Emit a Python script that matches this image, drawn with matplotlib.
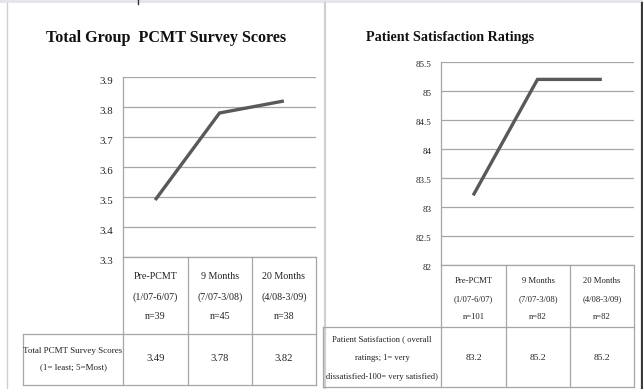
import matplotlib
matplotlib.use("Agg")
import matplotlib.pyplot as plt
from matplotlib.lines import Line2D
from matplotlib.patches import Rectangle
import matplotlib.transforms as mtransforms

# ---- data ----
left_title = "Total Group  PCMT Survey Scores"
left_categories = [["Pre-PCMT", "(1/07-6/07)", "n=39"],
                   ["9 Months", "(7/07-3/08)", "n=45"],
                   ["20 Months", "(4/08-3/09)", "n=38"]]
left_values = [3.49, 3.78, 3.82]
left_value_labels = ["3.49", "3.78", "3.82"]
left_row_label = ["Total PCMT Survey Scores", "(1= least; 5=Most)"]
left_yticks = [3.3, 3.4, 3.5, 3.6, 3.7, 3.8, 3.9]
left_yticklabels = ["3.3", "3.4", "3.5", "3.6", "3.7", "3.8", "3.9"]

right_title = "Patient Satisfaction Ratings"
right_categories = [["Pre-PCMT", "(1/07-6/07)", "n=101"],
                    ["9 Months", "(7/07-3/08)", "n=82"],
                    ["20 Months", "(4/08-3/09)", "n=82"]]
right_values = [83.2, 85.2, 85.2]
right_value_labels = ["83.2", "85.2", "85.2"]
right_row_label = ["Patient Satisfaction ( overall", "ratings; 1= very",
                   "dissatisfied-100= very satisfied)"]
right_yticks = [82, 82.5, 83, 83.5, 84, 84.5, 85, 85.5]
right_yticklabels = ["82", "82.5", "83", "83.5", "84", "84.5", "85", "85.5"]

# ---- figure ----
W, H = 643, 389
DPI = 100
fig = plt.figure(figsize=(W / DPI, H / DPI), dpi=DPI)
fig.patch.set_facecolor("white")
SERIF = "Liberation Serif"
TEXT_C = "#222222"
GRID_C = "#a6a6a6"
LINE_C = "#595959"

# pixel -> figure-fraction transform (y measured from top)
px = mtransforms.Affine2D().scale(1 / W, -1 / H).translate(0, 1) + fig.transFigure


def hline(x0, x1, y, color=GRID_C, lw=0.9):
    fig.add_artist(Line2D([x0, x1], [y, y], transform=px, color=color, lw=lw))


def vline(x, y0, y1, color=GRID_C, lw=0.9):
    fig.add_artist(Line2D([x, x], [y0, y1], transform=px, color=color, lw=lw))


def text(x, y, s, size=8, ha="center", **kw):
    fig.text(x, y, s, transform=px, ha=ha, va="center", fontsize=size,
             family=SERIF, color=TEXT_C, **kw)


# panel frame
fig.add_artist(Rectangle((0, 0), W, 3, transform=px, color="#e4e6ea", lw=0))
vline(137.5, 0, 4, color="#333333", lw=1)
vline(7, 3, H, color="#cfcfcf", lw=1)
vline(324.5, 3, H, color="#d0d0d0", lw=1.6)
vline(641.5, 3, H, color="#3a3a3a", lw=1.6)


def make_panel(ax_box, ylim, yticks, yticklabels, values, title, title_xy,
               title_size, categories, cat_cols, cat_y, cat_size, row_box,
               row_label, row_label_y, row_label_size, value_labels, value_y,
               value_size, label_dy, tick_size):
    x0, y0, x1, y1 = ax_box
    ax = fig.add_axes([x0 / W, 1 - y1 / H, (x1 - x0) / W, (y1 - y0) / H])
    ax.set_xlim(-0.5, 2.5)
    ax.set_ylim(*ylim)
    ax.set_yticks(yticks)
    ax.set_yticklabels(yticklabels)
    ax.set_xticks([])
    ax.tick_params(axis="y", length=0, pad=7, labelsize=tick_size,
                   labelcolor=TEXT_C)
    for lab in ax.get_yticklabels():
        lab.set_family(SERIF)
        lab.set_transform(lab.get_transform() +
                          mtransforms.ScaledTranslation(0, -label_dy / DPI,
                                                        fig.dpi_scale_trans))
    ax.grid(axis="y", color=GRID_C, lw=0.9)
    ax.set_axisbelow(True)
    for s in ["top", "right", "bottom"]:
        ax.spines[s].set_visible(False)
    ax.spines["left"].set_color(GRID_C)
    ax.spines["left"].set_linewidth(0.9)
    ax.patch.set_alpha(0)
    ax.plot(range(len(values)), values, color=LINE_C, lw=2.4,
            solid_capstyle="butt", solid_joinstyle="miter", clip_on=False)

    fig.text(title_xy[0], title_xy[1], title, transform=px, ha="center",
             va="center", fontsize=title_size, family=SERIF,
             fontweight="bold", color="#111111")

    # data table under the axes
    cx = cat_cols
    hline(cx[0], cx[-1], y1)
    for c in cx:
        vline(c, y1, row_box[3])
    rx0, ry0, rx1, ry1 = row_box
    hline(rx0, cx[-1], ry0)
    hline(rx0, cx[-1], ry1)
    vline(rx0, ry0, ry1)
    for i, lines in enumerate(categories):
        mid = (cx[i] + cx[i + 1]) / 2
        for s, yy in zip(lines, cat_y):
            text(mid, yy, s, size=cat_size)
        text(mid, value_y, value_labels[i], size=value_size)
    for s, yy in zip(row_label, row_label_y):
        text((rx0 + rx1) / 2, yy, s, size=row_label_size)
    return ax


make_panel(ax_box=(123, 77, 316, 257), ylim=(3.3, 3.9),
           yticks=left_yticks, yticklabels=left_yticklabels,
           values=left_values, title=left_title, title_xy=(166, 38),
           title_size=11.6, categories=left_categories,
           cat_cols=[123, 188, 252, 316], cat_y=[277, 297, 317], cat_size=7.2,
           row_box=(23, 334, 123, 385), row_label=left_row_label,
           row_label_y=[351, 367], row_label_size=6.5,
           value_labels=left_value_labels, value_y=359, value_size=7.6,
           label_dy=4, tick_size=7.8)

make_panel(ax_box=(441, 62, 634, 265), ylim=(82, 85.5),
           yticks=right_yticks, yticklabels=right_yticklabels,
           values=right_values, title=right_title, title_xy=(450, 38),
           title_size=10.2, categories=right_categories,
           cat_cols=[441, 506, 570, 634], cat_y=[281, 299, 317], cat_size=6.2,
           row_box=(323, 327, 441, 387), row_label=right_row_label,
           row_label_y=[339, 358, 377], row_label_size=6.2,
           value_labels=right_value_labels, value_y=358, value_size=6.8,
           label_dy=2, tick_size=6.5)

fig.savefig("out.png", dpi=DPI, facecolor="white")
